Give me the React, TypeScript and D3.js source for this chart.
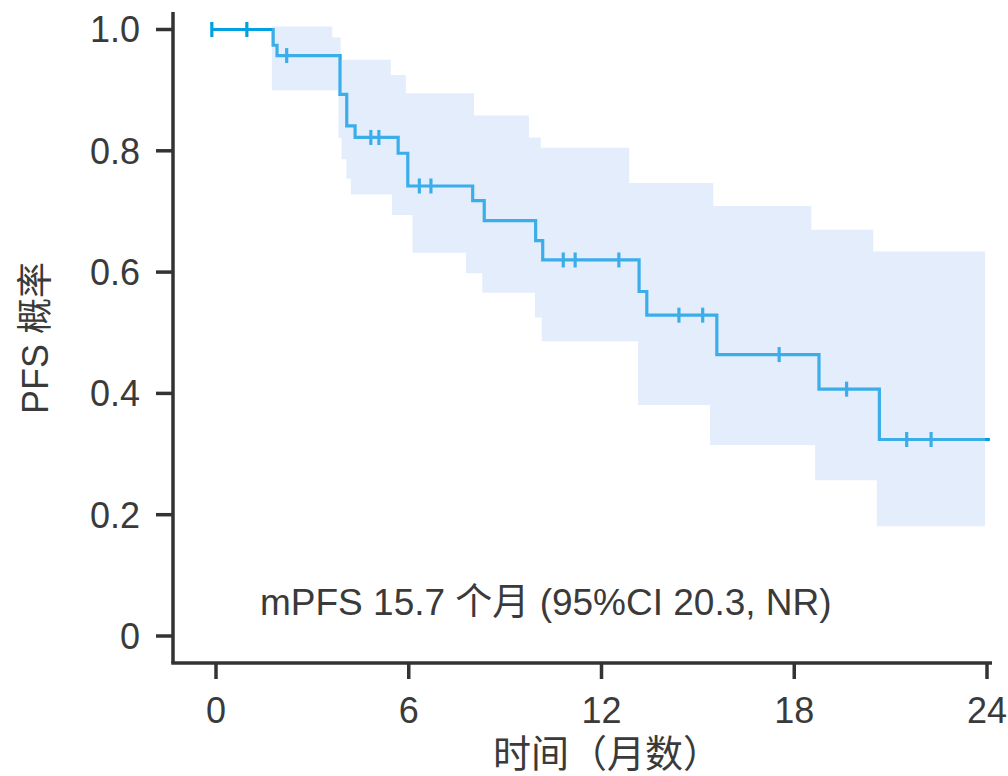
import React from "react";
import * as d3 from "d3";

// Kaplan–Meier curve: start, events (time, survival), censor times, end
const startTime = -0.13;
const endTime = 24.09;
const eventTimes = [1.78, 1.9, 3.86, 4.07, 4.33, 5.67, 5.97, 7.99, 8.35, 9.95, 10.17, 13.17, 13.41, 15.59, 18.77, 20.65];
const eventSurv = [0.974, 0.957, 0.893, 0.841, 0.822, 0.796, 0.742, 0.718, 0.685, 0.652, 0.62, 0.568, 0.529, 0.464, 0.407, 0.324];
const censorTimes = [-0.13, 0.96, 2.2, 4.82, 5.07, 6.33, 6.69, 10.81, 11.18, 12.54, 14.41, 15.15, 17.53, 19.63, 21.5, 22.26];

// 95% CI band
const bandEnd = 23.94;
const upperTimes = [1.74, 3.62, 3.88, 5.44, 5.91, 8.03, 9.74, 10.11, 12.86, 15.48, 18.53, 20.46];
const upperVals = [1.005, 0.987, 0.95, 0.925, 0.895, 0.858, 0.822, 0.805, 0.747, 0.709, 0.67, 0.634];
const lowerTimes = [1.74, 3.81, 3.91, 4.06, 4.2, 5.48, 6.12, 7.78, 8.29, 9.93, 10.14, 13.14, 15.38, 18.65, 20.57];
const lowerVals = [0.9, 0.821, 0.786, 0.754, 0.728, 0.694, 0.632, 0.598, 0.566, 0.525, 0.486, 0.381, 0.315, 0.257, 0.181];

const xTicks = [0, 6, 12, 18, 24];
const yTicks = [0, 0.2, 0.4, 0.6, 0.8, 1.0];
const yTickLabels = ["0", "0.2", "0.4", "0.6", "0.8", "1.0"];

const annotation = "mPFS 15.7 个月 (95%CI 20.3, NR)";
const xTitle = "时间（月数）";
const yTitle = "PFS 概率";

const FONT = '"Liberation Sans", Arial, "Noto Sans CJK SC", sans-serif';
const CJK = '"Noto Sans CJK SC", sans-serif';
const TEXT = "#3a3a3a";
const AXIS = "#333333";
const LINE = "#00a0e3";

function stepValue(times: number[], vals: number[], t: number, init: number) {
  const i = d3.bisectRight(times, t) - 1;
  return i < 0 ? init : vals[i];
}

export default function App() {
  const W = 1008, H = 776;
  const left = 173, right = 992, top = 12, bottom = 663;
  const x = d3.scaleLinear().domain([0, 24]).range([216, 987]);
  const y = d3.scaleLinear().domain([0, 1]).range([636, 29.5]);

  const kmPts: [number, number][] = [[startTime, 1]];
  eventTimes.forEach((t, i) => kmPts.push([t, eventSurv[i]]));
  kmPts.push([endTime, eventSurv[eventSurv.length - 1]]);
  const line = d3.line<[number, number]>()
    .x((d) => x(d[0]))
    .y((d) => y(d[1]))
    .curve(d3.curveStepAfter);

  const bt = Array.from(new Set([...upperTimes, ...lowerTimes])).sort((a, b) => a - b);
  const bandPts = bt.map((t) => ({
    t,
    lo: stepValue(lowerTimes, lowerVals, t, 1),
    hi: stepValue(upperTimes, upperVals, t, 1),
  }));
  const last = bandPts[bandPts.length - 1];
  bandPts.push({ t: bandEnd, lo: last.lo, hi: last.hi });
  const area = d3.area<{ t: number; lo: number; hi: number }>()
    .x((d) => x(d.t))
    .y0((d) => y(d.lo))
    .y1((d) => y(d.hi))
    .curve(d3.curveStepAfter);

  return (
    <svg width={W} height={H} style={{ position: "absolute", left: 0, top: 0 }} fontFamily={FONT}>
      <rect width={W} height={H} fill="#fff" />
      <path d={line(kmPts) || ""} fill="none" stroke={LINE} strokeWidth={3.2} />
      {censorTimes.map((t, i) => {
        const s = stepValue(eventTimes, eventSurv, t, 1);
        return (
          <line key={i} x1={x(t)} x2={x(t)} y1={y(s) - 7.5} y2={y(s) + 7.5} stroke={LINE} strokeWidth={3.2} />
        );
      })}
      <path d={area(bandPts) || ""} fill="rgb(173,202,246)" fillOpacity={0.34} />

      <line x1={left} x2={left} y1={top} y2={bottom} stroke={AXIS} strokeWidth={3.5} />
      <line x1={left - 1.75} x2={right} y1={bottom} y2={bottom} stroke={AXIS} strokeWidth={3.5} />
      {yTicks.map((v, i) => (
        <g key={v}>
          <line x1={left - 17} x2={left} y1={y(v)} y2={y(v)} stroke={AXIS} strokeWidth={3.5} />
          <text x={left - 33} y={y(v)} dy="0.36em" textAnchor="end" fontSize={36} fill={TEXT}>
            {yTickLabels[i]}
          </text>
        </g>
      ))}
      {xTicks.map((v) => (
        <g key={v}>
          <line x1={x(v)} x2={x(v)} y1={bottom} y2={bottom + 16} stroke={AXIS} strokeWidth={3.5} />
          <text x={x(v)} y={723} textAnchor="middle" fontSize={36} fill={TEXT}>
            {v}
          </text>
        </g>
      ))}
      <text x={607} y={767} textAnchor="middle" fontSize={38} fill={TEXT} fontFamily={CJK}>
        {xTitle}
      </text>
      <text transform="translate(48,338) rotate(-90)" textAnchor="middle" fontSize={36} fill={TEXT}>
        {yTitle}
      </text>
      <text x={260} y={615} textAnchor="start" fontSize={37} fill={TEXT}>
        {annotation}
      </text>
    </svg>
  );
}
